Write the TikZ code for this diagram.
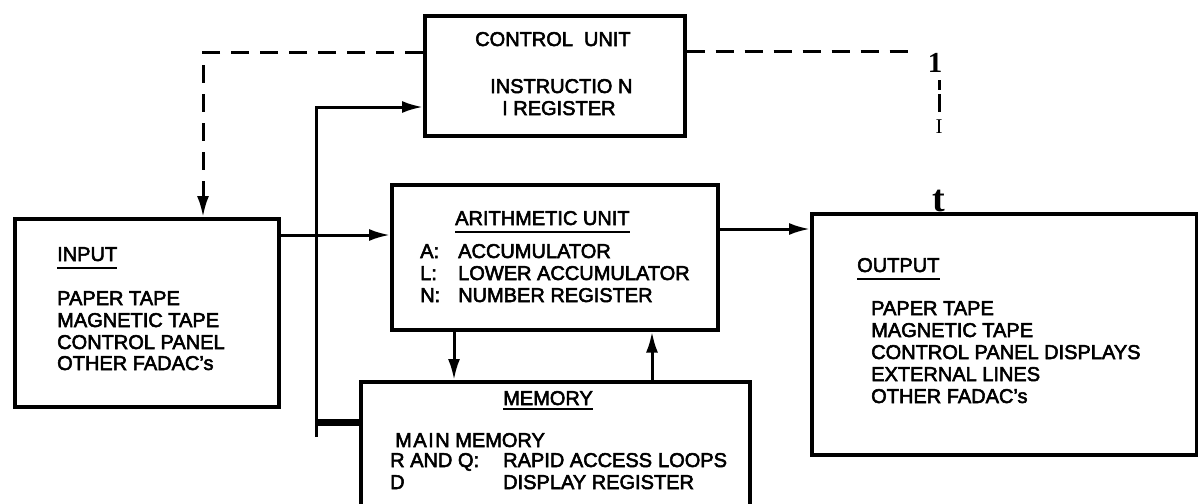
\documentclass[tikz,border=0pt]{standalone}
\usepackage{fontspec}
\setmainfont{Liberation Sans}
\newfontfamily\glyphfont{Liberation Serif}
\usetikzlibrary{arrows.meta}
\newcommand\heavyink{\special{pdf:literal direct 2 Tr 0.55 w}}
\begin{document}
\begin{tikzpicture}[x=1pt,y=-1pt,
  box/.style={draw, line width=3.6pt, anchor=north west, inner sep=0pt},
  txt/.style={inner sep=0pt, anchor=base west, font=\heavyink\fontsize{20}{22}\selectfont},
  tip/.style={-{Latex[length=21pt,width=12pt]}},
  conn/.style={line width=3pt, tip},
  plain/.style={line width=3pt},
  dashconn/.style={line width=3pt, dash pattern=on 18pt off 11pt},
  uline/.style={line width=2.2pt},
  glyph/.style={inner sep=0pt, anchor=base}
]
\useasboundingbox (0,0) rectangle (1198,503);
\fill[white] (0,0) rectangle (1198,503);
\clip (0,0) rectangle (1198,503);

% boxes
\node[box, minimum width=260pt, minimum height=120pt] (cu) at (423,14) {};
\node[box, minimum width=264pt, minimum height=188pt] (in) at (13,217) {};
\node[box, minimum width=326pt, minimum height=145pt] (au) at (390,183) {};
\node[box, minimum width=389pt, minimum height=170pt] (mem) at (359,380) {};
\node[box, minimum width=385pt, minimum height=241pt] (out) at (810,212) {};

% control unit text
\node[txt] (cut) at (475,46) {CONTROL\hspace{0.55em}UNIT};
\node[txt] (cu1) at (490,93) {INSTRUCTIO N};
\node[txt] (cu2) at (502,115) {I REGISTER};

% input text
\node[txt] (int) at (57,261) {INPUT};
\draw[uline] ([yshift=-7pt]int.base west) -- ([yshift=-7pt]int.base east);
\node[txt] (in1) at (57,305) {PAPER TAPE};
\node[txt] (in2) at (57,327) {MAGNETIC TAPE};
\node[txt] (in3) at (57,349) {CONTROL PANEL};
\node[txt] (in4) at (57,370) {OTHER FADAC's};

% arithmetic unit text
\node[txt] (aut) at (455,225) {ARITHMETIC UNIT};
\draw[uline] ([yshift=-7pt]aut.base west) -- ([yshift=-7pt]aut.base east);
\node[txt] (aul1) at (420,258) {A:};
\node[txt] (auv1) at (458,258) {ACCUMULATOR};
\node[txt] (aul2) at (420,280) {L:};
\node[txt] (auv2) at (458,280) {LOWER ACCUMULATOR};
\node[txt] (aul3) at (420,302) {N:};
\node[txt] (auv3) at (458,302) {NUMBER REGISTER};

% memory text
\node[txt] (memt) at (503,405) {MEMORY};
\draw[uline] ([yshift=-4pt]memt.base west) -- ([yshift=-4pt]memt.base east);
\node[txt] (mm1) at (395,447) {M\kern1.5pt A\kern1.5pt I\kern1.5pt N MEMORY};
\node[txt] (ml2) at (390,467) {R AND Q:};
\node[txt] (mv2) at (503,467) {RAPID ACCESS\hspace{0.3em}LOOPS};
\node[txt] (ml3) at (390,489) {D};
\node[txt] (mv3) at (503,489) {DISPLAY REGISTER};

% output text
\node[txt] (outt) at (857,272) {OUTPUT};
\draw[uline] ([yshift=-7pt]outt.base west) -- ([yshift=-7pt]outt.base east);
\node[txt] (o1) at (871,315) {PAPER TAPE};
\node[txt] (o2) at (871,337) {MAGNETIC TAPE};
\node[txt] (o3) at (871,359) {CONTROL PANEL DISPLAYS};
\node[txt] (o4) at (871,381) {EXTERNAL LINES};
\node[txt] (o5) at (871,403) {OTHER FADAC's};

% connectors
\path ([yshift=-39pt]cu.north west) coordinate (cuL)
      ([xshift=190pt]in.north west) coordinate (inT);
\draw[dashconn, tip] (cuL) -| (inT);

\coordinate (fbb) at (316,437);
\coordinate (fbj) at (316,422);
\path ([yshift=-93pt]cu.north west) coordinate (cuF);
\draw[conn] (fbb) |- (cuF);
\draw[line width=7pt] (fbj) -- (fbj -| mem.west);

\path ([yshift=-18pt]in.north east) coordinate (inA);
\draw[conn] (inA) -- (inA -| au.west);

\path ([yshift=-46pt]au.north east) coordinate (auO);
\draw[conn] (auO) -- (auO -| out.west);

\path ([xshift=64pt]au.south west) coordinate (auM);
\draw[conn] (auM) -- (auM |- mem.north);

\path ([xshift=293pt]mem.north west) coordinate (memA);
\draw[conn] (memA) -- (memA |- au.south);

% right dashed line to output
\path ([yshift=-38pt]cu.north east) coordinate (cuR);
\coordinate (rc) at (918,52);
\draw[dashconn] (cuR) -- (rc);
\node[glyph, font=\glyphfont\bfseries\fontsize{29}{29}\selectfont] (one) at (935,73) {1};
\coordinate (rd1) at (939,80);
\coordinate (rd2) at (939,90);
\coordinate (rd3) at (939,94);
\coordinate (rd4) at (939,112);
\draw[plain] (rd1) -- (rd2) (rd3) -- (rd4);
\node[glyph, font=\glyphfont\fontsize{21}{21}\selectfont] (eye) at (939,133) {I};
\node[glyph, font=\glyphfont\bfseries\fontsize{38}{38}\selectfont] (tee) at (939,211) {t};
\end{tikzpicture}
\end{document}
